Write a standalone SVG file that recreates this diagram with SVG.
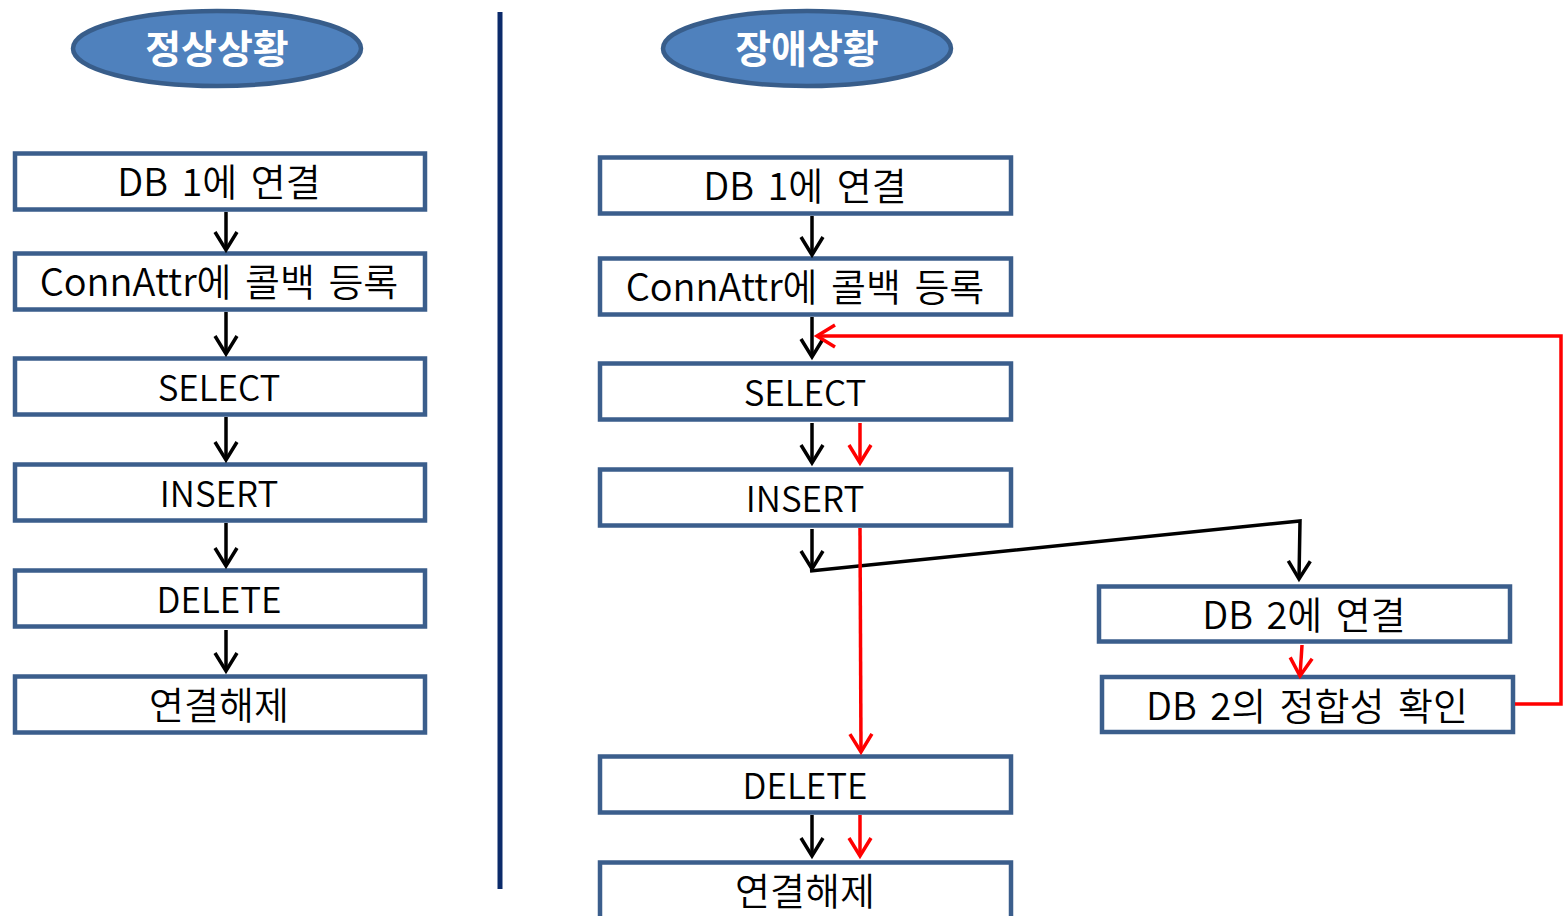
<svg xmlns="http://www.w3.org/2000/svg" width="1566" height="916" viewBox="0 0 1566 916">
<defs>
<style>
.box{fill:#fff;stroke:#3b5e8c;stroke-width:4.5}
.lbl{font-family:"Noto Sans CJK KR","Noto Sans",sans-serif;font-size:38px;font-weight:350;word-spacing:5px;fill:#000;text-anchor:middle}
.lat{font-size:35px}
.ttl{font-family:"Noto Sans CJK KR","Noto Sans",sans-serif;font-size:39px;font-weight:bold;fill:#fff;text-anchor:middle}
.ell{fill:#4f81bd;stroke:#385d8a;stroke-width:4.5}
.blk{fill:none;stroke:#000;stroke-width:3.5}
.red{fill:none;stroke:#ff0000;stroke-width:3.5}
</style>
<marker id="ab" markerUnits="userSpaceOnUse" markerWidth="40" markerHeight="40" viewBox="-20 -20 40 40" refX="0" refY="0" orient="auto" overflow="visible">
<path d="M-18,-11 L0,0 L-18,11" fill="none" stroke="#000" stroke-width="3.5"/>
</marker>
<marker id="ar" markerUnits="userSpaceOnUse" markerWidth="40" markerHeight="40" viewBox="-20 -20 40 40" refX="0" refY="0" orient="auto" overflow="visible">
<path d="M-18,-11 L0,0 L-18,11" fill="none" stroke="#ff0000" stroke-width="3.5"/>
</marker>
</defs>
<rect width="1566" height="916" fill="#fff"/>
<line x1="500" y1="12" x2="500" y2="889" stroke="#0b2a6a" stroke-width="5"/>

<g id="title-normal"><ellipse class="ell" cx="217" cy="48.5" rx="144" ry="37.5"/><text class="ttl" x="217" y="63">정상상황</text></g>
<g id="title-fault"><ellipse class="ell" cx="807" cy="48.5" rx="144" ry="37.5"/><text class="ttl" x="807" y="63">장애상황</text></g>

<g id="L1"><rect class="box" x="15" y="153.5" width="410" height="56"/><text class="lbl" x="219" y="196">DB 1에 연결</text></g>
<g id="L2"><rect class="box" x="15" y="253.5" width="410" height="56"/><text class="lbl" x="219" y="296">ConnAttr에 콜백 등록</text></g>
<g id="L3"><rect class="box" x="15" y="358.5" width="410" height="56"/><text class="lbl lat" x="219" y="401">SELECT</text></g>
<g id="L4"><rect class="box" x="15" y="464.5" width="410" height="56"/><text class="lbl lat" x="219" y="507">INSERT</text></g>
<g id="L5"><rect class="box" x="15" y="570.5" width="410" height="56"/><text class="lbl lat" x="219" y="613">DELETE</text></g>
<g id="L6"><rect class="box" x="15" y="676.5" width="410" height="56"/><text class="lbl" x="219" y="719">연결해제</text></g>

<g id="R1"><rect class="box" x="600" y="157.5" width="411" height="56"/><text class="lbl" x="805" y="200">DB 1에 연결</text></g>
<g id="R2"><rect class="box" x="600" y="258.5" width="411" height="56"/><text class="lbl" x="805" y="301">ConnAttr에 콜백 등록</text></g>
<g id="R3"><rect class="box" x="600" y="363.5" width="411" height="56"/><text class="lbl lat" x="805" y="406">SELECT</text></g>
<g id="R4"><rect class="box" x="600" y="469.5" width="411" height="56"/><text class="lbl lat" x="805" y="512">INSERT</text></g>
<g id="R5"><rect class="box" x="600" y="756.5" width="411" height="56"/><text class="lbl lat" x="805" y="799">DELETE</text></g>
<g id="R6"><rect class="box" x="600" y="862.5" width="411" height="60"/><text class="lbl" x="805" y="905">연결해제</text></g>
<g id="D2"><rect class="box" x="1099" y="586.5" width="411" height="55"/><text class="lbl" x="1304" y="629">DB 2에 연결</text></g>
<g id="D2C"><rect class="box" x="1102" y="677" width="411" height="55"/><text class="lbl" x="1307" y="720">DB 2의 정합성 확인</text></g>

<g id="connectors">
<line class="blk" x1="226" y1="212" x2="226" y2="250" marker-end="url(#ab)"/>
<line class="blk" x1="226" y1="312" x2="226" y2="354" marker-end="url(#ab)"/>
<line class="blk" x1="226" y1="417" x2="226" y2="460" marker-end="url(#ab)"/>
<line class="blk" x1="226" y1="523" x2="226" y2="566" marker-end="url(#ab)"/>
<line class="blk" x1="226" y1="630" x2="226" y2="671" marker-end="url(#ab)"/>

<line class="blk" x1="812" y1="216" x2="812" y2="255" marker-end="url(#ab)"/>
<line class="blk" x1="812" y1="317" x2="812" y2="357" marker-end="url(#ab)"/>
<line class="blk" x1="812" y1="423" x2="812" y2="463" marker-end="url(#ab)"/>
<line class="red" x1="860" y1="423" x2="860" y2="463" marker-end="url(#ar)"/>
<line class="blk" x1="812" y1="529" x2="812" y2="569" marker-end="url(#ab)"/>
<polyline class="blk" points="810,571 1300,521 1299,579" marker-end="url(#ab)"/>
<line class="red" x1="860" y1="528" x2="861" y2="752" marker-end="url(#ar)"/>
<line class="blk" x1="812" y1="815" x2="812" y2="856" marker-end="url(#ab)"/>
<line class="red" x1="860" y1="815" x2="860" y2="856" marker-end="url(#ar)"/>
<line class="red" x1="1302" y1="645" x2="1300" y2="676" marker-end="url(#ar)"/>
<polyline class="red" points="1515,704 1561,704 1561,336 817,336" marker-end="url(#ar)"/>
</g>
</svg>
